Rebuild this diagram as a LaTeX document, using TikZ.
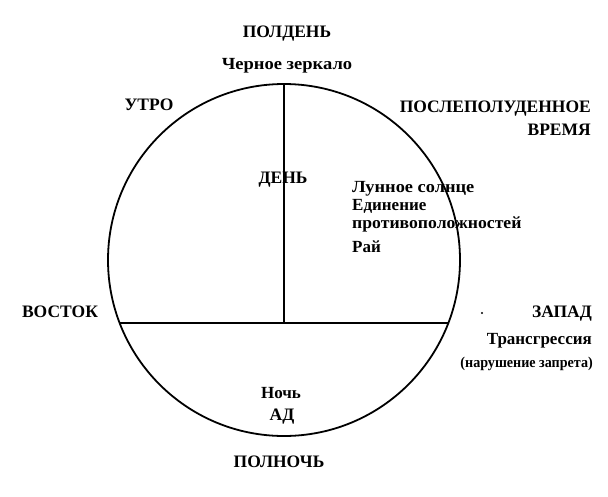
\documentclass[tikz,border=0pt]{standalone}
\usepackage{fontspec}
\setmainfont{Liberation Serif}
\begin{document}
\begin{tikzpicture}[x=1pt,y=-1pt,
  lbl/.style={font=\bfseries\fontsize{17.5}{20}\selectfont, inner sep=0pt, anchor=base},
  sub/.style={font=\bfseries\fontsize{17}{20}\selectfont, inner sep=0pt, anchor=base},
  line/.style={line width=2pt}]
\useasboundingbox (0,0) rectangle (608,496);
\coordinate (c) at (284,260);
\draw[line width=1.8pt] (c) circle[radius=176];
\coordinate (top) at (284,84);
\coordinate (mid) at (284,323);
\coordinate (hl) at (119.5,323);
\coordinate (hr) at (448.5,323);
\draw[line] (top) -- (mid);
\draw[line] (hl) -- (hr);
\fill (482,313) circle[radius=1.2];
\node[lbl] (noon) at (287,37) {ПОЛДЕНЬ};
\node[sub, xscale=1.09] (mirror) at (287,69) {Черное зеркало};
\node[lbl] (morning) at (149,110) {УТРО};
\node[lbl, anchor=base east] (after) at (591,112) {ПОСЛЕПОЛУДЕННОЕ};
\node[lbl, anchor=base east] (time) at (591,135) {ВРЕМЯ};
\node[lbl] (day) at (283,183) {ДЕНЬ};
\node[sub, anchor=base west, xscale=1.08] (moon) at (352,192) {Лунное солнце};
\node[sub, anchor=base west] (union) at (352,210) {Единение};
\node[sub, anchor=base west, xscale=1.04] (opp) at (352,228) {противоположностей};
\node[sub, anchor=base west] (par) at (352,252) {Рай};
\node[lbl] (east) at (60,317) {ВОСТОК};
\node[lbl, anchor=base east] (west) at (592,317) {ЗАПАД};
\node[sub, anchor=base east] (trans) at (592,344) {Трансгрессия};
\node[sub, anchor=base east, font=\bfseries\fontsize{15}{18}\selectfont, xscale=0.94] (viol) at (593,367) {(нарушение запрета)};
\node[sub] (night) at (281,398) {Ночь};
\node[lbl] (hell) at (282,420) {АД};
\node[lbl] (midnight) at (279,467) {ПОЛНОЧЬ};
\end{tikzpicture}
\end{document}
